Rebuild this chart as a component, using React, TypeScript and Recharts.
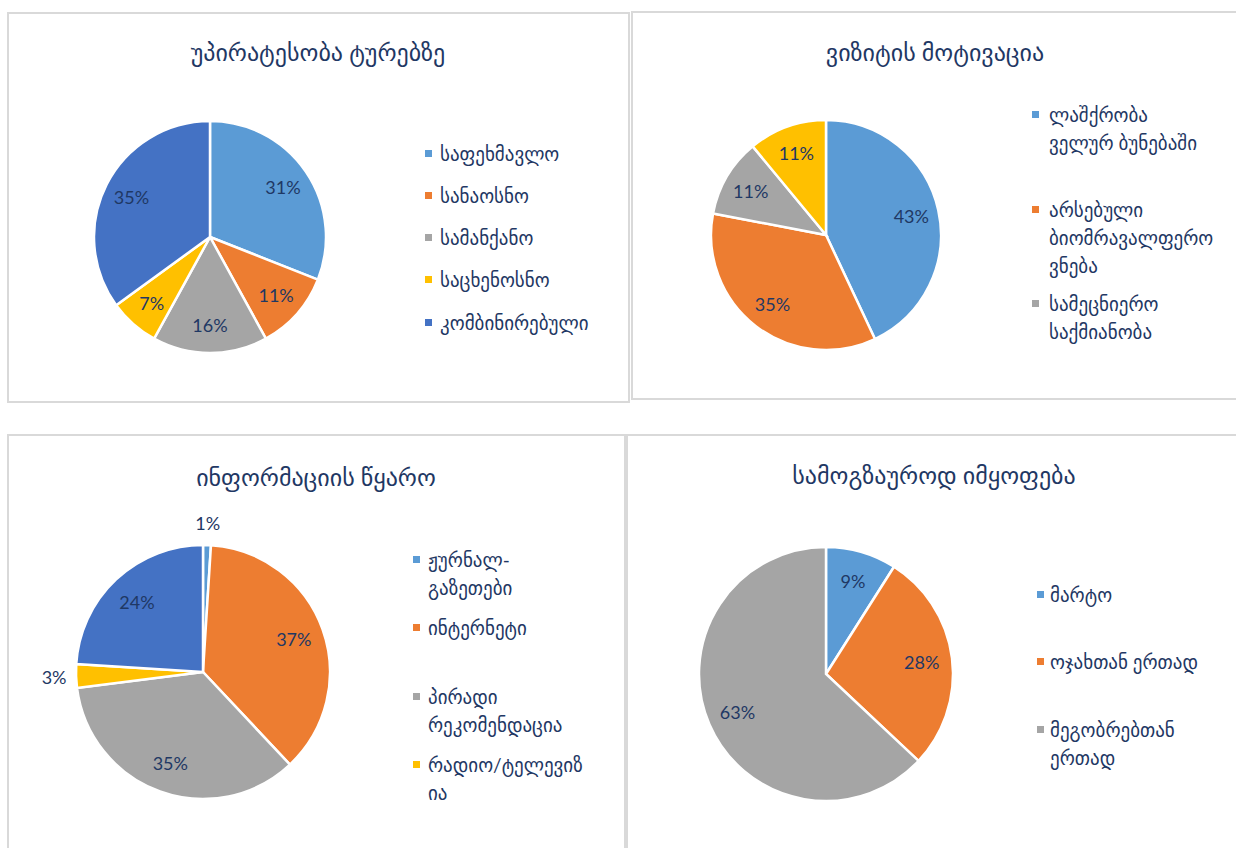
import React from "react";
import { PieChart, Pie, Cell } from "recharts";

const COLORS = ["#5B9BD5", "#ED7D31", "#A5A5A5", "#FFC000", "#4472C4"];
const TEXT = "#1F3864";
const FONT = "Lato, 'DejaVu Sans', sans-serif";

// chart 1 - preference for tours
const prefTitle = "უპირატესობა ტურებზე";
const prefLabels = [["საფეხმავლო"], ["სანაოსნო"], ["სამანქანო"], ["საცხენოსნო"], ["კომბინირებული"]];
const prefValues = [31, 11, 16, 7, 35];

// chart 2 - visit motivation (last legend entry is cut off in the source)
const motiveTitle = "ვიზიტის მოტივაცია";
const motiveLabels = [
  ["ლაშქრობა", "ველურ ბუნებაში"],
  ["არსებული", "ბიომრავალფერო", "ვნება"],
  ["სამეცნიერო", "საქმიანობა"],
  ["სხვა"],
];
const motiveValues = [43, 35, 11, 11];

// chart 3 - information source
const infoTitle = "ინფორმაციის წყარო";
const infoLabels = [
  ["ჟურნალ-", "გაზეთები"],
  ["ინტერნეტი"],
  ["პირადი", "რეკომენდაცია"],
  ["რადიო/ტელევიზ", "ია"],
  ["სხვა"],
];
const infoValues = [1, 37, 35, 3, 24];

// chart 4 - travelling with
const companyTitle = "სამოგზაუროდ იმყოფება";
const companyLabels = [["მარტო"], ["ოჯახთან ერთად"], ["მეგობრებთან", "ერთად"]];
const companyValues = [9, 28, 63];

const panels = [
  {
    title: prefTitle, labels: prefLabels, values: prefValues,
    box: { left: 7, top: 12, width: 623, height: 391 },
    titlePos: [318, 52], cx: 210, cy: 237, r: 116,
    legend: { markerX: 425, textX: 440, rows: [154, 196, 238, 280, 323] },
  },
  {
    title: motiveTitle, labels: motiveLabels, values: motiveValues,
    box: { left: 631, top: 11, width: 640, height: 389 },
    titlePos: [935, 52], cx: 826, cy: 235, r: 115,
    legend: { markerX: 1032, textX: 1049, rows: [115, 210, 304] },
  },
  {
    title: infoTitle, labels: infoLabels, values: infoValues,
    box: { left: 7, top: 434, width: 619, height: 440 },
    titlePos: [316, 477], cx: 203, cy: 672, r: 127,
    legend: { markerX: 413, textX: 428, rows: [560, 628, 697, 765] },
  },
  {
    title: companyTitle, labels: companyLabels, values: companyValues,
    box: { left: 626, top: 434, width: 640, height: 440 },
    titlePos: [934, 475], cx: 826, cy: 674, r: 127,
    legend: { markerX: 1037, textX: 1050, rows: [595, 662, 730] },
  },
];

const RADIAN = Math.PI / 180;
const LINE_H = 28;

function renderLabel(props: any) {
  const { cx, cy, midAngle, outerRadius, value } = props;
  const r = value < 5 ? outerRadius + 22 : outerRadius * 0.76;
  const x = cx + r * Math.cos(-midAngle * RADIAN);
  const y = cy + r * Math.sin(-midAngle * RADIAN);
  return (
    <text
      x={x}
      y={y}
      fill={TEXT}
      fontSize={18}
      fontFamily={FONT}
      textAnchor="middle"
      dominantBaseline="central"
    >
      {`${value}%`}
    </text>
  );
}

export default function App() {
  return (
    <div
      style={{
        position: "absolute",
        left: 0,
        top: 0,
        width: 1236,
        height: 848,
        overflow: "hidden",
        background: "#fff",
        fontFamily: FONT,
        color: TEXT,
      }}
    >
      {panels.map((p, pi) => {
        const data = p.values.map((v, i) => ({ name: p.labels[i].join(" "), value: v }));
        return (
          <React.Fragment key={pi}>
            <div
              style={{
                position: "absolute",
                left: p.box.left,
                top: p.box.top,
                width: p.box.width,
                height: p.box.height,
                border: "2px solid #D9D9D9",
                boxSizing: "border-box",
              }}
            />
            <div
              style={{
                position: "absolute",
                left: p.titlePos[0] - 300,
                top: p.titlePos[1] - 17,
                width: 600,
                lineHeight: "34px",
                textAlign: "center",
                fontSize: 24,
              }}
            >
              {p.title}
            </div>
            <div style={{ position: "absolute", left: 0, top: 0 }}>
              <PieChart
                width={1236}
                height={848}
                margin={{ top: 0, right: 0, bottom: 0, left: 0 }}
              >
                <Pie
                  data={data}
                  dataKey="value"
                  nameKey="name"
                  cx={p.cx}
                  cy={p.cy}
                  outerRadius={p.r}
                  startAngle={90}
                  endAngle={-270}
                  stroke="#fff"
                  strokeWidth={2.5}
                  label={renderLabel}
                  labelLine={false}
                  isAnimationActive={false}
                >
                  {data.map((d, i) => (
                    <Cell key={d.name} fill={COLORS[i]} />
                  ))}
                </Pie>
              </PieChart>
            </div>
            {p.legend.rows.map((y, i) => (
              <React.Fragment key={`lg${pi}-${i}`}>
                <div
                  style={{
                    position: "absolute",
                    left: p.legend.markerX,
                    top: y - 4,
                    width: 7,
                    height: 7,
                    background: COLORS[i],
                  }}
                />
                {p.labels[i].map((line, li) => (
                  <div
                    key={li}
                    style={{
                      position: "absolute",
                      left: p.legend.textX,
                      top: y - LINE_H / 2 + li * LINE_H,
                      height: LINE_H,
                      lineHeight: `${LINE_H}px`,
                      fontSize: 19,
                      whiteSpace: "nowrap",
                    }}
                  >
                    {line}
                  </div>
                ))}
              </React.Fragment>
            ))}
          </React.Fragment>
        );
      })}
    </div>
  );
}
